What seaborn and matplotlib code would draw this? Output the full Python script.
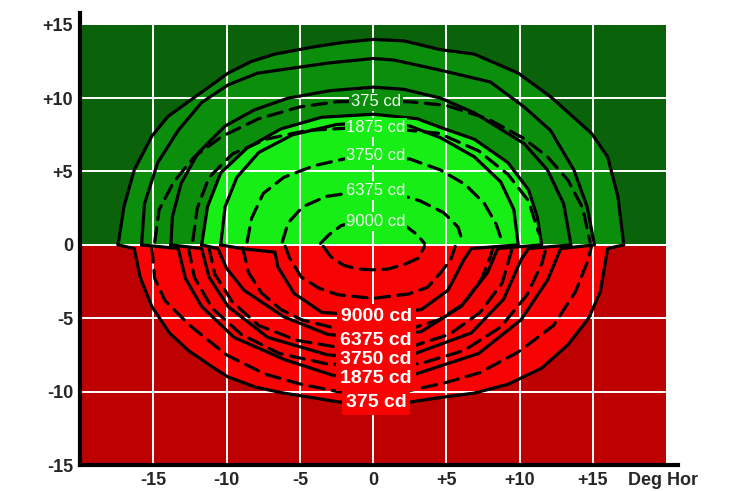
import matplotlib

matplotlib.use("Agg")

import matplotlib.pyplot as plt
import pandas as pd
import seaborn as sns

# axis extents and ticks (degrees)
X_LEFT, X_RIGHT = -20, 20
Y_BOTTOM, Y_TOP = -15, 15
X_TICKS = [-15, -10, -5, 0, 5, 10, 15]
X_TICK_LABELS = ["-15", "-10", "-5", "0", "+5", "+10", "+15"]
Y_TICKS = [-15, -10, -5, 0, 5, 10, 15]
Y_TICK_LABELS = ["-15", "-10", "-5", "0", "+5", "+10", "+15"]
X_AXIS_NAME = "Deg Hor"

# solid contours, part above the horizon (left -> right)
S1_X = [-17.4, -17.0, -16.3, -15.1, -14.0, -12.4, -9.9, -8.3, -6.7, -4.0, -2.0, 0.0, 2.1, 4.6, 6.9, 9.9, 12.1, 14.9, 16.0, 16.7, 17.1]
S1_Y = [0.0, 2.6, 5.1, 7.4, 8.75, 9.9, 11.7, 12.5, 13.0, 13.5, 13.8, 14.0, 13.9, 13.3, 13.0, 11.7, 10.1, 7.6, 6.0, 3.3, 0.0]
S2_X = [-15.8, -15.6, -14.7, -13.3, -11.7, -9.9, -7.9, -5.8, -3.0, 0.0, 1.4, 4.6, 8.0, 10.3, 12.1, 13.7, 14.6, 15.1]
S2_Y = [0.0, 2.8, 5.6, 7.8, 9.7, 10.9, 11.7, 12.0, 12.4, 12.7, 12.6, 11.9, 11.1, 9.4, 7.8, 5.1, 2.6, 0.0]
S3_X = [-13.8, -13.7, -13.1, -11.95, -10.1, -8.1, -5.8, -3.0, 0.0, 2.1, 4.6, 6.9, 10.3, 11.9, 13.0, 13.5]
S3_Y = [0.0, 1.9, 4.2, 6.25, 8.1, 9.2, 10.0, 10.5, 10.75, 10.6, 10.0, 9.0, 6.9, 5.1, 2.8, 0.0]
S4_X = [-11.7, -11.3, -10.4, -8.6, -6.3, -3.5, 0.0, 3.0, 4.6, 6.9, 9.2, 10.6, 11.2, 11.5]
S4_Y = [0.0, 2.6, 4.9, 6.6, 7.9, 8.7, 8.9, 8.6, 8.0, 7.2, 5.6, 3.75, 1.9, 0.0]
S5_X = [-10.4, -10.1, -9.3, -7.8, -5.5, -2.5, 0.0, 2.5, 4.6, 6.9, 8.7, 9.6, 9.9]
S5_Y = [0.0, 2.6, 4.6, 6.3, 7.5, 8.2, 8.35, 8.1, 7.3, 6.0, 4.3, 2.4, 0.0]

# solid contours, part below the horizon (left -> right)
L1_X = [-16.3, -15.9, -15.1, -13.9, -12.6, -11.0, -9.9, -8.0, -6.1, -4.2, -2.4, 0.0, 2.6, 4.6, 6.9, 9.2, 11.5, 13.3, 14.7, 15.5, 16.0]
L1_Y = [-0.25, -2.2, -4.2, -6.0, -7.2, -8.3, -9.0, -9.7, -10.1, -10.4, -10.7, -10.8, -10.7, -10.4, -10.1, -9.5, -8.4, -6.8, -5.0, -3.2, -0.25]
L2_X = [-13.3, -12.8, -11.7, -9.5, -6.1, -2.7, 0.0, 2.6, 7.2, 10.1, 11.9, 12.8]
L2_Y = [-0.25, -2.3, -4.2, -6.3, -7.8, -8.9, -9.1, -8.9, -7.4, -5.1, -2.4, -0.25]
L3_X = [-11.7, -11.2, -9.9, -7.2, -3.1, 0.0, 2.6, 6.7, 8.9, 10.1, 10.6]
L3_Y = [-0.25, -2.2, -4.2, -6.3, -7.5, -7.7, -7.5, -6.0, -3.7, -1.0, -0.25]
L4_X = [-10.6, -10.0, -8.8, -6.1, -3.1, 0.0, 3.3, 6.0, 7.8, 8.5]
L4_Y = [-0.25, -1.6, -3.1, -4.9, -6.1, -6.4, -5.9, -4.2, -1.9, -0.25]
L5_X = [-9.0, -6.7, -6.5, -5.4, -3.5, 0.0, 3.3, 5.1, 6.2, 6.7]
L5_Y = [-0.25, -0.5, -1.5, -3.3, -4.6, -4.85, -4.4, -3.1, -1.0, -0.25]

# dashed contours above the horizon
DA_X = [-14.9, -14.6, -13.6, -12.2, -10.3, -7.8, -5.0, -2.5, 0.0, 2.5, 5.0, 7.8, 10.2, 11.9, 13.3, 14.3, 14.8]
DA_Y = [0.2, 2.4, 4.3, 6.0, 7.4, 8.6, 9.4, 9.75, 9.8, 9.75, 9.5, 8.6, 7.3, 6.0, 4.4, 2.5, 0.2]
DB_X = [-12.3, -12.0, -11.2, -9.6, -7.3, -4.5, 0.0, 4.5, 7.2, 9.2, 10.6, 11.3]
DB_Y = [0.3, 2.5, 4.6, 6.2, 7.2, 7.8, 8.05, 7.6, 6.4, 4.8, 3.0, 0.8]
DC_X = [-8.6, -8.3, -7.5, -6.1, -4.0, -2.0, 0.0, 2.5, 4.6, 6.3, 7.6, 8.4, 8.8]
DC_Y = [0.2, 1.8, 3.5, 4.6, 5.4, 5.85, 6.0, 5.85, 5.1, 4.1, 2.8, 1.4, 0.2]
DD_X = [-6.2, -5.8, -4.8, -3.2, -1.5, 0.0, 1.5, 3.2, 4.8, 5.8, 6.1]
DD_Y = [0.2, 1.5, 2.6, 3.3, 3.55, 3.6, 3.5, 3.0, 2.2, 1.2, 0.2]
DE_X = [-3.6, -3.0, -2.2, -1.0, 0.0, 1.0, 2.2, 3.0, 3.5]
DE_Y = [0.1, 0.7, 1.3, 1.65, 1.7, 1.65, 1.3, 0.7, 0.1]

# dashed contours below the horizon
D1_X = [-15.1, -14.9, -14.2, -12.5, -10.0, -7.4, -4.9, -2.4, 0.0, 2.6, 4.9, 7.3, 9.9, 12.3, 13.8, 14.6, 14.9]
D1_Y = [-0.2, -2.3, -3.8, -5.5, -7.5, -8.8, -9.5, -10.0, -10.1, -9.9, -9.4, -8.7, -7.3, -5.5, -3.2, -1.2, -0.1]
D2_X = [-12.6, -12.2, -11.0, -9.0, -6.4, -3.2, 0.0, 3.2, 6.2, 8.7, 10.5, 11.5, 11.8]
D2_Y = [-0.2, -2.2, -4.3, -6.1, -7.4, -8.1, -8.3, -8.1, -7.2, -5.6, -3.4, -1.3, -0.2]
D3_X = [-11.2, -10.8, -9.6, -7.8, -5.2, -2.6, 0.0, 2.7, 5.2, 7.3, 8.8, 9.5]
D3_Y = [-0.2, -2.0, -3.9, -5.5, -6.5, -6.95, -7.05, -6.9, -6.1, -4.6, -2.6, -0.2]
D4_X = [-8.9, -8.5, -7.6, -6.3, -4.9, -2.7, 0.0, 2.6, 4.5, 6.2, 7.4, 8.0, 8.2]
D4_Y = [-0.2, -1.9, -3.3, -4.4, -5.1, -5.65, -5.8, -5.7, -5.1, -4.0, -2.3, -0.8, -0.1]
D5_X = [-6.0, -5.7, -4.9, -3.7, -2.4, 0.0, 2.4, 3.7, 4.6, 5.3, 5.6]
D5_Y = [-0.1, -0.9, -2.2, -2.95, -3.4, -3.65, -3.35, -2.9, -1.9, -1.0, -0.1]
D6_X = [-3.4, -2.9, -2.0, -1.0, 0.0, 1.0, 2.2, 3.1, 3.5]
D6_Y = [-0.1, -0.8, -1.4, -1.65, -1.7, -1.65, -1.3, -0.9, -0.1]

# contour labels
UPPER_LABELS = ["375 cd", "1875 cd", "3750 cd", "6375 cd", "9000 cd"]
UPPER_LABEL_Y = [9.75, 8.0, 6.1, 3.7, 1.6]
LOWER_LABELS = ["9000 cd", "6375 cd", "3750 cd", "1875 cd", "375 cd"]
LOWER_LABEL_Y = [-4.85, -6.5, -7.8, -9.1, -10.75]
LABEL_X = 0.2

DARK_GREEN = "#0a620a"
MID_GREEN = "#0b8e0b"
BRIGHT_GREEN = "#16ee16"
DARK_RED = "#bd0000"
BRIGHT_RED = "#f70303"

sns.set_theme(style="white")
plt.rcParams["font.family"] = ["Liberation Sans", "DejaVu Sans"]

solid = [
    (S1_X, S1_Y, L1_X, L1_Y),
    (S2_X, S2_Y, L2_X, L2_Y),
    (S3_X, S3_Y, L3_X, L3_Y),
    (S4_X, S4_Y, L4_X, L4_Y),
    (S5_X, S5_Y, L5_X, L5_Y),
]
dashed = [
    (DA_X, DA_Y), (DB_X, DB_Y), (DC_X, DC_Y), (DD_X, DD_Y), (DE_X, DE_Y),
    (D1_X, D1_Y), (D2_X, D2_Y), (D3_X, D3_Y), (D4_X, D4_Y), (D5_X, D5_Y), (D6_X, D6_Y),
]

frames = []
for i, (tx, ty, bx, by) in enumerate(solid):
    # closed contour: upper part, then lower part back to the start
    xs = list(tx) + list(bx)[::-1] + [tx[0]]
    ys = list(ty) + list(by)[::-1] + [ty[0]]
    frames.append(pd.DataFrame({"x": xs, "y": ys, "curve": f"s{i}", "kind": "solid"}))
for i, (dx, dy) in enumerate(dashed):
    frames.append(pd.DataFrame({"x": dx, "y": dy, "curve": f"d{i}", "kind": "dashed"}))
lines = pd.concat(frames, ignore_index=True)
outer = lines[lines["curve"] == "s0"]

fig = plt.figure(figsize=(7.31, 4.91), dpi=100)
ax = fig.add_axes([80 / 731, 26 / 491, 598 / 731, 452 / 491])
ax.set_facecolor("white")

ax.fill_between([X_LEFT, X_RIGHT], 0, Y_TOP, color=DARK_GREEN, lw=0, zorder=0)
ax.fill_between([X_LEFT, X_RIGHT], Y_BOTTOM, 0, color=DARK_RED, lw=0, zorder=0)
# outer contour: bright red below, mid green above, bright green in the core
ax.fill(outer["x"], outer["y"], color=BRIGHT_RED, lw=0, zorder=0.3)
ax.fill(S1_X, S1_Y, color=MID_GREEN, lw=0, zorder=0.5)
ax.fill(S4_X, S4_Y, color=BRIGHT_GREEN, lw=0, zorder=0.6)

ax.vlines(X_TICKS, Y_BOTTOM, Y_TOP, colors="white", lw=1.4, zorder=1)
ax.hlines([t for t in Y_TICKS if Y_BOTTOM < t < Y_TOP], X_LEFT, X_RIGHT,
          colors="white", lw=1.4, zorder=1)

sns.lineplot(
    data=lines, x="x", y="y", units="curve", estimator=None, sort=False,
    style="kind", dashes={"solid": "", "dashed": (4.5, 2.6)},
    color="black", lw=2.3, legend=False, ax=ax, zorder=3,
    solid_capstyle="round", dash_capstyle="round", solid_joinstyle="round",
)

for text, y in zip(UPPER_LABELS, UPPER_LABEL_Y):
    face = MID_GREEN if y > 9 else BRIGHT_GREEN
    ax.text(LABEL_X, y, text, ha="center", va="center", color="#f0fbf0",
            fontsize=12, zorder=4,
            bbox=dict(boxstyle="square,pad=0.1", fc=face, ec="none"))
for text, y in zip(LOWER_LABELS, LOWER_LABEL_Y):
    ax.text(LABEL_X, y, text, ha="center", va="center", color="white",
            fontsize=14, fontweight="bold", zorder=4,
            bbox=dict(boxstyle="square,pad=0.2", fc=BRIGHT_RED, ec="none"))

ax.set_xlim(X_LEFT, 20.8)
ax.set_ylim(Y_BOTTOM, 15.8)
ax.set_xticks(X_TICKS)
ax.set_xticklabels(X_TICK_LABELS, fontsize=13, fontweight="bold")
ax.set_yticks(Y_TICKS)
ax.set_yticklabels(Y_TICK_LABELS, fontsize=13, fontweight="bold")
ax.tick_params(length=0, pad=5)
ax.annotate(X_AXIS_NAME, xy=(19.8, 0), xycoords=("data", "axes fraction"),
            xytext=(0, -5), textcoords="offset points", ha="center", va="top",
            fontsize=13, fontweight="bold")
ax.set_xlabel("")
ax.set_ylabel("")

for side in ["top", "right"]:
    ax.spines[side].set_visible(False)
for side in ["left", "bottom"]:
    ax.spines[side].set_color("black")
    ax.spines[side].set_linewidth(3)
    ax.spines[side].set_zorder(5)

fig.savefig("out.png", dpi=100, facecolor="white")
